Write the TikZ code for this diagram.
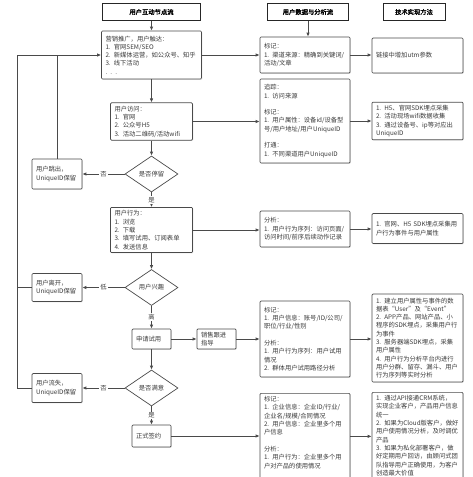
\documentclass[tikz,border=0pt]{standalone}
\usepackage{fontspec}
\setmainfont{Noto Sans CJK SC}[AutoFakeBold=2]
\usetikzlibrary{arrows.meta,shapes.geometric,shadows}
\definecolor{linegray}{HTML}{4A4A4A}
\definecolor{textgray}{HTML}{3A3A3A}
\newcommand{\bodysize}{\fontsize{6.3}{8.3}\selectfont}

\begin{document}
\begin{tikzpicture}[x=1pt,y=-1pt,
    box/.style={draw=linegray,line width=0.7pt,fill=white,rounded corners=1pt,
      align=left,inner xsep=4pt,inner ysep=3pt,font=\bodysize,text=textgray,
      drop shadow={shadow xshift=0.8pt,shadow yshift=-0.8pt,opacity=0.2}},
    head/.style={draw=black!85,line width=0.9pt,fill=white,font=\bodysize\bfseries,
      text=black,minimum height=17pt,inner sep=0pt},
    choice/.style={diamond,draw=linegray,line width=0.7pt,fill=white,aspect=1.5,
      inner sep=0pt,minimum width=53pt,minimum height=36pt,font=\bodysize,text=textgray},
    arr/.style={draw=linegray,line width=0.8pt,-{Latex[length=4pt,width=3.5pt]}},
    link/.style={draw=linegray,line width=0.8pt},
    tag/.style={fill=white,inner sep=1pt,font=\bodysize,text=textgray}]

    \useasboundingbox (0,0) rectangle (473,477);
    \fill[white] (0,0) rectangle (473,477);

    % Interaction flow
    \node[head,minimum width=98pt] (flow) at (151.5,12) {用户互动节点流};
    \node[box,text width=92pt,minimum height=48pt] (reach) at (151.5,55)
        {营销推广，用户触达：\\1. 官网SEM/SEO\\2. 新媒体运营，如公众号、知乎\\3. 线下活动\\. . .};
    \node[box,text width=74pt,minimum height=35pt] (visit) at (151.5,121.5)
        {用户访问：\\1. 官网\\2. 公众号H5\\3. 活动二维码/活动wifi};
    \node[choice] (stay) at (151.5,174) {是否停留};
    \node[box,text width=74pt,minimum height=44pt] (act) at (151.5,230)
        {用户行为：\\1. 浏览\\2. 下载\\3. 填写试用、订阅表单\\4. 发送信息};
    \node[choice] (interest) at (151.5,287.5) {用户兴趣};
    \node[box,text width=31pt,minimum height=20pt] (trial) at (151.5,339) {申请试用};
    \node[box,text width=31pt,minimum height=20pt] (sales) at (216.5,339) {销售跟进\\指导};
    \node[choice] (satis) at (151.5,388) {是否满意};
    \node[box,text width=31pt,minimum height=22pt] (sign) at (151.5,436) {正式签约};

    % Exits
    \node[box,text width=42pt,minimum height=30pt] (bounce) at (57,174) {用户跳出，\\UniqueID保留};
    \node[box,text width=42pt,minimum height=28pt] (leave) at (57,287.5) {用户离开，\\UniqueID保留};
    \node[box,text width=42pt,minimum height=29pt] (churn) at (57,388) {用户流失，\\UniqueID保留};

    % Data and analysis flow
    \node[head,minimum width=81pt] (data) at (308,12) {用户数据与分析流};
    \node[box,text width=82pt,minimum height=36pt] (mark) at (305,55)
        {标记：\\1. 渠道来源：精确到关键词/\\活动/文章};
    \node[box,text width=82pt,minimum height=84pt] (track) at (305,121)
        {追踪：\\1. 访问来源\\[8.3pt]标记：\\1. 用户属性：设备id/设备型\\号/用户地址/用户UniqueID\\[8.3pt]打通：\\1. 不同渠道用户UniqueID};
    \node[box,text width=82pt,minimum height=36pt] (seq) at (305,229)
        {分析：\\1. 用户行为序列：访问页面/\\访问时间/前序后续动作记录};
    \node[box,text width=82pt,minimum height=76pt] (trialinfo) at (305,339)
        {标记：\\1. 用户信息：账号/ID/公司/\\职位/行业/性别\\[8.3pt]分析：\\1. 用户行为序列：用户试用\\情况\\2. 群体用户试用路径分析};
    \node[box,text width=82pt,anchor=north] (firm) at (305,393)
        {标记：\\1. 企业信息：企业ID/行业/\\企业名/规模/合同情况\\2. 用户信息：企业里多个用\\户信息\\[8.3pt]分析：\\1. 用户行为：企业里多个用\\户对产品的使用情况\\ \mbox{}};

    % Technical methods
    \node[head,minimum width=62pt] (tech) at (414,12) {技术实现方法};
    \node[box,text width=83pt,minimum height=35pt] (utm) at (417.5,55.5) {链接中增加utm参数};
    \node[box,text width=83pt,minimum height=37pt] (sdk) at (417.5,121)
        {1. H5、官网SDK埋点采集\\2. 活动现场wifi数据收集\\3. 通过设备号、ip等对应出\\UniqueID};
    \node[box,text width=83pt,minimum height=30pt] (event) at (417.5,228.5)
        {1. 官网、H5 SDK埋点采集用\\户行为事件与用户属性};
    \node[box,text width=83pt,minimum height=88pt] (table) at (417.5,338)
        {1. 建立用户属性与事件的数\\据表“User”及“Event”\\2. APP产品、网站产品、小\\程序的SDK埋点，采集用户行\\为事件\\3. 服务器端SDK埋点，采集\\用户属性\\4. 用户行为分析平台内进行\\用户分群、留存、漏斗、用户\\行为序列等实时分析};
    \node[box,text width=83pt,anchor=north] (crm) at (417.5,392)
        {1. 通过API接通CRM系统，\\实现企业客户，产品用户信息\\统一\\2. 如果为Cloud版客户，做好\\用户使用情况分析，及时调优\\产品\\3. 如果为私化部署客户，做\\好定期用户回访，由顾问式团\\队指导用户正确使用，为客户\\创造最大价值};

    % Main path
    \draw[arr] (flow) -- (reach);
    \draw[arr] (data.south) -- (data.south |- mark.north);
    \draw[arr] (reach) -- (visit);
    \draw[arr] (visit) -- (stay);
    \draw[arr] (stay) -- node[tag] {是} (act);
    \draw[arr] (stay) -- node[tag] {否} (bounce);
    \draw[arr] (act) -- (interest);
    \draw[arr] (interest) -- node[tag] {低} (leave);
    \draw[arr] (interest) -- node[tag] {高} (trial);
    \draw[arr] (trial) -- (sales);
    \draw[arr] (trial) -- (satis);
    \draw[arr] (satis) -- node[tag] {否} (churn);
    \draw[arr] (satis) -- node[tag] {是} (sign);

    % Back to the start
    \draw[link] (bounce.north) -- (bounce.north |- reach.west);
    \draw[link] (leave.west) -- ++(-14,0);
    \draw[arr] (churn.west) -- ++(-14,0) |- (reach.west);

    % Into the data flow
    \draw[arr] (reach.east) -- (reach.east -| mark.west);
    \draw[arr] (visit.east) -- (visit.east -| track.west);
    \draw[arr] (act.east) -- (act.east -| seq.west);
    \draw[arr] (sales.east) -- (sales.east -| trialinfo.west);
    \draw[arr] (sign.east) -- (sign.east -| firm.west);

    % Into the methods
    \foreach \a/\b in {mark/utm,track/sdk,seq/event,trialinfo/table,firm/crm}
        \draw[arr] (\a.east) -- (\a.east -| \b.west);

\end{tikzpicture}
\end{document}
